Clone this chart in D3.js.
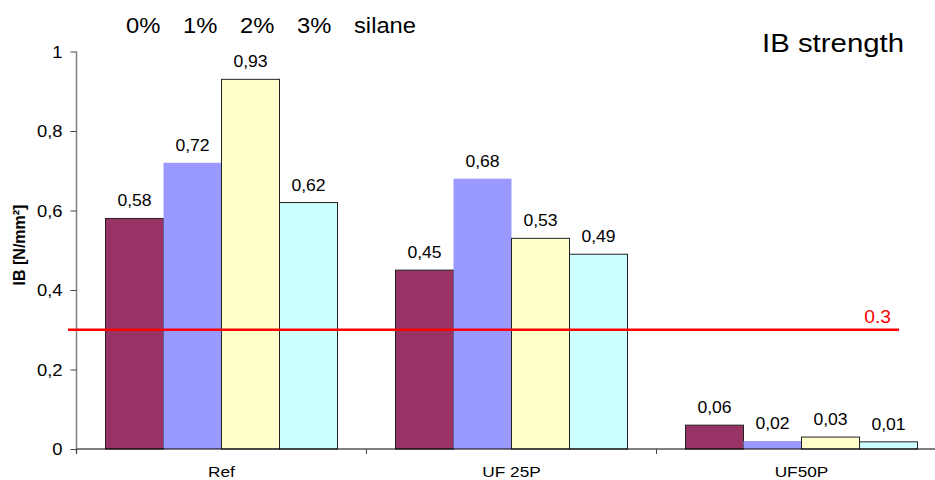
<!DOCTYPE html>
<html>
<head>
<meta charset="utf-8">
<script src="https://cdn.jsdelivr.net/npm/d3@7"></script>
<style>
  body { margin: 0; background: #fff; }
  svg { display: block; font-family: "Liberation Sans", Arial, sans-serif; }
</style>
</head>
<body>
<svg width="935" height="480"></svg>
<script>
var groups = ["Ref", "UF 25P", "UF50P"];
var series = ["0%", "1%", "2%", "3%"];
// bar heights, one array per silane level
var s0 = [0.58, 0.45, 0.06];
var s1 = [0.72, 0.68, 0.02];
var s2 = [0.93, 0.53, 0.03];
var s3 = [0.62, 0.49, 0.018];
// labels as printed above the bars
var l0 = ["0,58", "0,45", "0,06"];
var l1 = ["0,72", "0,68", "0,02"];
var l2 = ["0,93", "0,53", "0,03"];
var l3 = ["0,62", "0,49", "0,01"];
var yTicks = [0, 0.2, 0.4, 0.6, 0.8, 1];
var yTickLabels = ["0", "0,2", "0,4", "0,6", "0,8", "1"];
var limit = 0.3;

var colors = ["#993366", "#9999ff", "#ffffcc", "#ccffff"];
var strokes = ["#222", "none", "#222", "#222"];

var values = [s0, s1, s2, s3], labels = [l0, l1, l2, l3];

var svg = d3.select("svg");

var x0 = d3.scaleBand().domain(groups).range([76.5, 76.5 + 3 * 290]);
var x1 = d3.scaleBand().domain(series).range([0, x0.bandwidth()])
    .paddingInner(0).paddingOuter(0.5);
var y = d3.scaleLinear().domain([0, 1]).range([449, 51.5]);

// stretch text a bit horizontally like the original rendering
function stretch(sel, sx) {
  sel.each(function() {
    var t = d3.select(this);
    var tx = +t.attr("x") || 0, ty = +t.attr("y") || 0;
    t.attr("x", 0).attr("y", 0)
     .attr("transform", "translate(" + tx + "," + ty + ") scale(" + sx + ",1)");
  });
}

// bars
var g = svg.append("g");
groups.forEach(function(grp, gi) {
  series.forEach(function(s, si) {
    var v = values[si][gi];
    g.append("rect")
      .attr("x", x0(grp) + x1(s))
      .attr("y", y(v))
      .attr("width", x1.bandwidth())
      .attr("height", y(0) - y(v))
      .attr("fill", colors[si])
      .attr("stroke", strokes[si])
      .attr("stroke-width", 1);
    g.append("text")
      .attr("class", "vlab")
      .attr("x", x0(grp) + x1(s) + x1.bandwidth() / 2)
      .attr("y", y(v) - 12)
      .attr("text-anchor", "middle")
      .attr("font-size", 16)
      .text(labels[si][gi]);
  });
});
stretch(g.selectAll(".vlab"), 1.1);

// y axis
var yAxis = svg.append("g")
  .attr("transform", "translate(76.5,0)")
  .call(d3.axisLeft(y).tickValues(yTicks)
    .tickFormat(function(d, i) { return yTickLabels[i]; })
    .tickSize(6).tickSizeOuter(0).tickPadding(8));
yAxis.select(".domain").attr("stroke", "#808080").attr("stroke-width", 1.5)
  .attr("d", "M0," + y(1) + "V" + (y(0) + 4));
yAxis.selectAll(".tick line").attr("stroke", "#444");
yAxis.selectAll("text").attr("font-size", 16).attr("font-family", null)
  .attr("fill", "#000").attr("dy", "0.35em");
yAxis.selectAll("text").each(function() {
  d3.select(this).attr("x", 0)
    .attr("transform", "translate(-14,0) scale(1.15,1)");
});

// x axis
var xAxis = svg.append("g").attr("transform", "translate(0," + y(0) + ")");
xAxis.append("line").attr("x1", 76.5).attr("x2", 935)
  .attr("stroke", "#000").attr("stroke-width", 1);
groups.forEach(function(grp) {
  xAxis.append("line")
    .attr("x1", x0(grp)).attr("x2", x0(grp))
    .attr("y1", 0).attr("y2", 5)
    .attr("stroke", "#444");
});
var xl = xAxis.selectAll(".xlab").data(groups).enter().append("text")
  .attr("class", "xlab")
  .attr("x", function(d) { return x0(d) + x0.bandwidth() / 2; })
  .attr("y", 28)
  .attr("text-anchor", "middle")
  .attr("font-size", 15)
  .text(function(d) { return d; });
stretch(xl, 1.15);

// y label
svg.append("text")
  .attr("transform", "translate(25,245) rotate(-90)")
  .attr("text-anchor", "middle")
  .attr("font-weight", "bold")
  .attr("font-size", 16)
  .text("IB [N/mm²]");

// limit line
svg.append("line")
  .attr("x1", 68).attr("x2", 899)
  .attr("y1", y(limit)).attr("y2", y(limit))
  .attr("stroke", "#ff0000").attr("stroke-width", 2.5);
var lim = svg.append("text")
  .attr("x", 891).attr("y", y(limit) - 7)
  .attr("text-anchor", "end")
  .attr("font-size", 18)
  .attr("fill", "#ff0000")
  .text(String(limit));
stretch(lim, 1.07);

// legend-ish header
var head = series.concat(["silane"]);
var hl = svg.selectAll(".head").data(head).enter().append("text")
  .attr("class", "head")
  .attr("x", function(d, i) { return 126 + i * 57; })
  .attr("y", 33)
  .attr("font-size", 22)
  .text(function(d) { return d; });
stretch(hl, 1.08);

// title
var title = svg.append("text")
  .attr("x", 762).attr("y", 52)
  .attr("font-size", 26)
  .text("IB strength");
stretch(title, 1.13);
</script>
</body>
</html>
